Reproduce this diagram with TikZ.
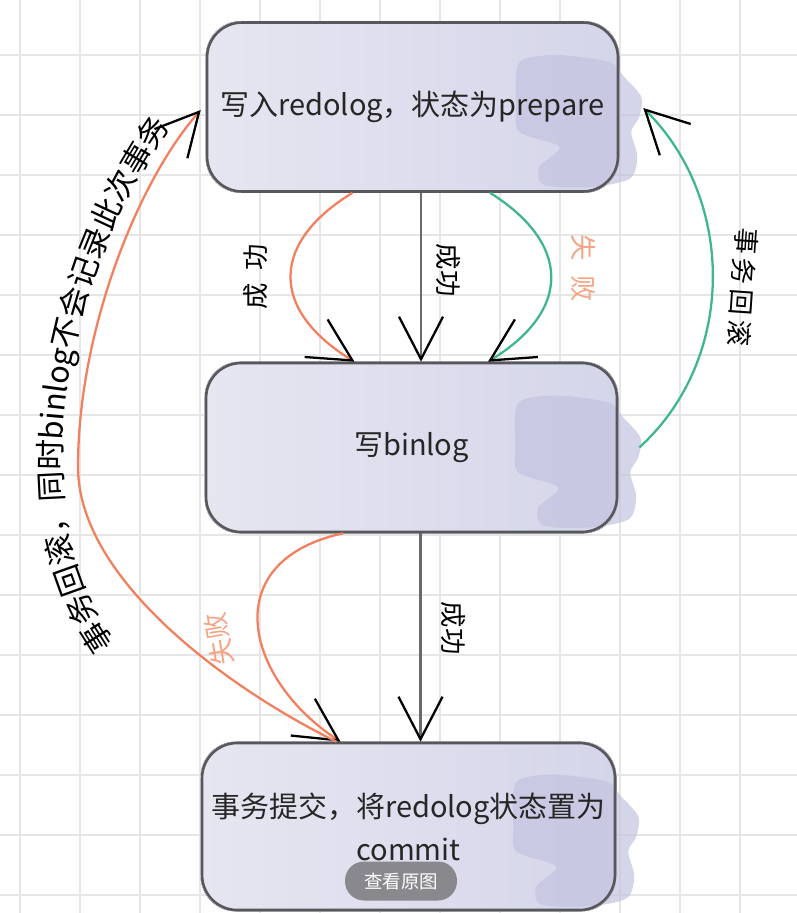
\documentclass[tikz,border=0pt]{standalone}
\usepackage{fontspec}
\setmainfont{Noto Sans CJK SC}
\usetikzlibrary{arrows.meta,calc,backgrounds,decorations.text}

\definecolor{gridgray}{HTML}{E6E6E6}
\definecolor{boxline}{HTML}{58585C}
\definecolor{boxleft}{HTML}{E6E6F1}
\definecolor{boxright}{HTML}{D5D5EA}
\definecolor{blobcol}{HTML}{C3C3E0}
\definecolor{redline}{HTML}{F2805E}
\definecolor{greenline}{HTML}{3FB68B}
\definecolor{faillabel}{HTML}{F6A384}
\definecolor{midline}{HTML}{6A6A6A}
\definecolor{btngray}{HTML}{88888D}

\tikzset{
  stagebox/.style={draw=boxline, line width=1.5pt, rounded corners=0.7cm,
    minimum width=8.22cm, minimum height=3.38cm, inner sep=0pt, align=center,
    font=\fontsize{16.5}{24.5}\selectfont, text=black!85},
  boxshade/.style={left color=boxleft, right color=boxright, rounded corners=0.7cm},
  blob/.style={fill=blobcol, fill opacity=0.7},
  vhead/.style={-{Straight Barb[length=0.85cm,width=0.88cm,color=black]}},
  redarc/.style={vhead, draw=redline, line width=1.3pt},
  greenarc/.style={vhead, draw=greenline, line width=1.3pt},
  plainarrow/.style={vhead, draw=midline, line width=1.3pt},
  lbl/.style={font=\fontsize{15}{15}\selectfont, inner sep=0pt},
}

\begin{document}
\begin{tikzpicture}[x=0.02cm, y=-0.02cm]
  \useasboundingbox (0,0) rectangle (797,913);

  % stages
  \node[stagebox] (prep) at (412.5,107) {写入redolog，状态为prepare};
  \node[stagebox] (binlog) at (411.5,447.5) {写binlog};
  \node[stagebox, minimum width=8.26cm, minimum height=3.34cm] (commit) at (408.5,826.5) {事务提交，将redolog状态置为\\commit};

  \begin{scope}[on background layer]
    \foreach \x in {20,80,...,800} \draw[gridgray, line width=0.6pt] (\x,0) -- (\x,913);
    \foreach \y in {55,115,...,913} \draw[gridgray, line width=0.6pt] (0,\y) -- (797,\y);
    \foreach \n in {prep,binlog,commit} {
      \fill[boxshade] (\n.north west) rectangle (\n.south east);
      \fill[blob, shift={(\n.east)}] plot[smooth cycle] coordinates {
        (-103,-35) (-95,-48) (-60,-52) (-10,-45) (5,-30) (22,-10) (20,10) (12,25)
        (18,50) (10,72) (-30,80) (-75,78) (-80,60) (-60,40) (-100,25) (-103,0)};
    }
  \end{scope}

  % prepare -> binlog
  \draw[redarc] ($(prep.south)+(-60,0)$) .. controls +(-82,50) and +(-85,-52) .. ($(binlog.north)+(-57,0)$);
  \draw[plainarrow] ($(prep.south)+(8.5,0)$) -- ($(binlog.north)+(9.5,0)$);
  \draw[greenarc] ($(prep.south)+(77.5,0)$) .. controls +(80,50) and +(85,-52) .. ($(binlog.north)+(76.5,0)$);
  \draw[greenarc] ($(binlog.east)+(21,0)$) .. controls +(97,-88) and +(93,92) .. ($(prep.east)+(24,1)$);

  % binlog -> commit
  \draw[plainarrow] ($(binlog.south)+(9,0)$) -- ($(commit.north)+(12,0)$);
  \draw[redarc] ($(binlog.south)+(-68.5,0)$) .. controls +(-128,28) and +(-95,-62) .. ($(commit.north)+(-68,0)$);

  % rollback
  \coordinate (bend) at (78,467);
  \draw[redarc] ($(commit.north)+(-72,0)$) .. controls +(-106,-52) and +(0,113) .. (bend)
    .. controls +(0,-137) and +(-62,70) .. ($(prep.west)+(-5,3)$);

  % labels
  \path[decorate, decoration={text along path, text align=center,
      text={|\fontsize{17.5}{17.5}\selectfont|事务回滚，同时binlog不会记录此次事务}}]
    (140,675) .. controls (82,612) and (62,540) .. (62,467) .. controls (62,330) and (112,195) .. (195,95);
  \node[lbl, rotate=90] (okA) at (256,277) {成\hspace{0.5em}功};
  \node[lbl, rotate=-90] (okB) at (448,270) {成功};
  \node[lbl, rotate=-90, text=faillabel] (failA) at (583,268) {失\hspace{0.55em}败};
  \node[lbl, rotate=-94] (rollA) at (743,287) {事\,务\,回\,滚};
  \node[lbl, rotate=-90] (okC) at (453,628) {成功};
  \node[lbl, rotate=99.5, text=faillabel] (failB) at (219,639) {失败};

  \node[fill=btngray, rounded corners=0.38cm, minimum width=2.24cm, minimum height=0.78cm,
    text=white, font=\fontsize{10.5}{10.5}\selectfont] (view) at (401,881) {查看原图};
\end{tikzpicture}
\end{document}
